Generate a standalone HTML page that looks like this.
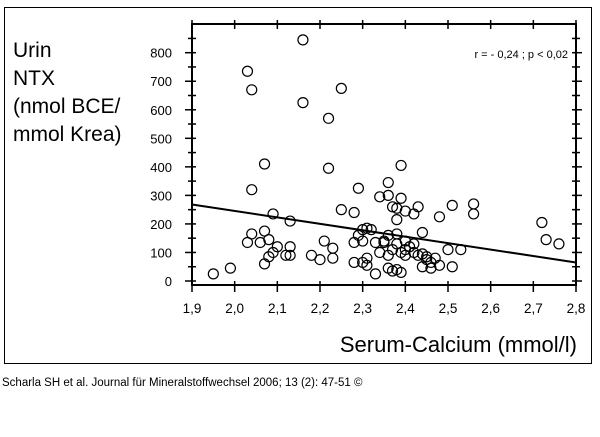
<!DOCTYPE html>
<html><head><meta charset="utf-8"><style>
body{margin:0;background:#fff;width:600px;height:432px;overflow:hidden;font-family:"Liberation Sans",Arial,sans-serif}
</style></head><body>
<svg width="600" height="432" viewBox="0 0 600 432" style="font-family:'Liberation Sans',Arial,sans-serif">
<rect x="4.5" y="7.5" width="587" height="356" fill="none" stroke="#000" stroke-width="1"/>
<g font-size="21" fill="#000">
<text x="13" y="57">Urin</text><text x="13" y="85">NTX</text><text x="13" y="113">(nmol BCE/</text><text x="13" y="141">mmol Krea)</text>
</g>
<text x="577" y="352" font-size="22" text-anchor="end">Serum-Calcium (mmol/l)</text>
<text x="2" y="386" font-size="11.5">Scharla SH et al. Journal für Mineralstoffwechsel 2006; 13 (2): 47-51 ©</text>
<text x="568" y="58" font-size="11" text-anchor="end">r = - 0,24 ; p &lt; 0,02</text>
<g id="plot"></g>
</svg>
<script>
const xTicks=[1.9,2.0,2.1,2.2,2.3,2.4,2.5,2.6,2.7,2.8];
const xTickLabels=["1,9","2,0","2,1","2,2","2,3","2,4","2,5","2,6","2,7","2,8"];
const yTicks=[0,100,200,300,400,500,600,700,800];
const xVals=[1.95,1.99,2.03,2.04,2.16,2.16,2.25,2.22,2.07,2.22,2.39,2.04,2.29,2.36,2.34,2.36,2.39,2.09,2.13,2.25,2.28,2.37,2.38,2.40,2.42,2.43,2.38,2.48,2.51,2.56,2.56,2.72,2.73,2.76,2.04,2.07,2.03,2.06,2.08,2.10,2.09,2.08,2.07,2.13,2.12,2.13,2.18,2.20,2.21,2.23,2.23,2.28,2.29,2.30,2.31,2.32,2.30,2.33,2.34,2.35,2.36,2.35,2.37,2.36,2.38,2.38,2.39,2.40,2.40,2.41,2.42,2.43,2.44,2.44,2.45,2.45,2.46,2.47,2.48,2.50,2.53,2.28,2.30,2.31,2.31,2.33,2.36,2.37,2.38,2.39,2.44,2.46,2.51,2.40,2.42];
const yVals=[25,45,735,670,845,625,675,570,410,395,405,320,325,345,295,300,290,235,210,250,240,260,255,245,235,260,215,225,265,270,235,205,145,130,165,175,135,135,145,120,100,85,60,120,90,90,90,75,140,115,80,135,160,180,185,180,140,135,100,135,160,140,110,90,165,130,100,140,90,120,100,90,170,95,85,75,65,80,55,110,110,65,65,80,55,25,45,35,40,30,50,45,50,110,130];
const regX=[1.9,2.8];
const regY=[268,65];
const X0=192,X1=576,Y0=281,YT=52.7,TOP=24,BOT=285;
const xs=v=>X0+(v-1.9)/0.9*(X1-X0);
const ys=v=>Y0-v/800*(Y0-YT);
const NS="http://www.w3.org/2000/svg";
const g=document.getElementById('plot');
function mk(t,a){const e=document.createElementNS(NS,t);for(const k in a)e.setAttribute(k,a[k]);g.appendChild(e);return e;}
const fr=mk('rect',{x:X0,y:TOP,width:X1-X0,height:BOT-TOP,fill:'none',stroke:'#000','stroke-width':2});


for(let i=0;i<xTicks.length;i++){
 const x=xs(xTicks[i]);
 const t=mk('line',{x1:x,x2:x,y1:BOT-4,y2:BOT+7,stroke:'#000','stroke-width':1.5});
 
 
 const t2=mk('line',{x1:x,x2:x,y1:TOP-4,y2:TOP+5,stroke:'#000','stroke-width':1.5});
 
 
 const l=mk('text',{x:x,y:313,'font-size':13.5,'text-anchor':'middle'});l.textContent=xTickLabels[i];
 
 
}
for(let v=0;v<=850;v+=50){
 const y=ys(v);const maj=v%100===0;
 const t=mk('line',{x1:X0-(maj?7:4),x2:X0+4,y1:y,y2:y,stroke:'#000','stroke-width':1.5});
 
 
 const t2=mk('line',{x1:X1-4,x2:X1+(maj?6:4),y1:y,y2:y,stroke:'#000','stroke-width':1.5});
 
 
}
for(const v of yTicks){
 const l=mk('text',{x:172,y:ys(v)+5,'font-size':13,'text-anchor':'end'});l.textContent=v;
 
 
}
const rl=mk('line',{x1:xs(regX[0]),y1:ys(regY[0]),x2:xs(regX[1]),y2:ys(regY[1]),stroke:'#000','stroke-width':2});


for(let i=0;i<xVals.length;i++){
 const c=mk('circle',{cx:xs(xVals[i]),cy:ys(yVals[i]),r:5,fill:'none',stroke:'#000','stroke-width':1.2});
 
 
}
</script>
</body></html>
